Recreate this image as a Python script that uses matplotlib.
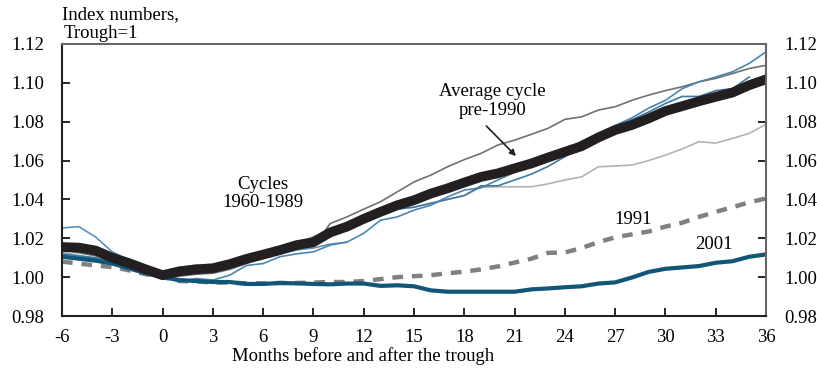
import numpy as np
import matplotlib.pyplot as plt

plt.rcParams['font.family'] = ['Liberation Serif', 'DejaVu Serif']
plt.rcParams['axes.unicode_minus'] = False

months = np.arange(-6, 37)
nan = np.nan

avg_pre1990 = [1.0155, 1.0152, 1.0137, 1.0100, 1.0072, 1.0040, 1.0010, 1.0030, 1.0040, 1.0046,
               1.0067, 1.0094, 1.0116, 1.0139, 1.0165, 1.0180, 1.0230, 1.0260, 1.0300, 1.0336,
               1.0370, 1.0396, 1.0430, 1.0457, 1.0487, 1.0516, 1.0534, 1.0560, 1.0585, 1.0616,
               1.0645, 1.0674, 1.0719, 1.0757, 1.0783, 1.0817, 1.0855, 1.0880, 1.0905, 1.0928,
               1.0950, 1.0988, 1.1018]
cyc_2001 = [1.0105, 1.0095, 1.0085, 1.0070, 1.0045, 1.0020, 1.0000, 0.9985, 0.9980, 0.9975,
            0.9975, 0.9965, 0.9965, 0.9970, 0.9968, 0.9965, 0.9963, 0.9967, 0.9967, 0.9955,
            0.9958, 0.9953, 0.9932, 0.9925, 0.9925, 0.9925, 0.9925, 0.9925, 0.9937, 0.9942,
            0.9948, 0.9953, 0.9967, 0.9973, 0.9998, 1.0027, 1.0043, 1.0050, 1.0057, 1.0074,
            1.0082, 1.0105, 1.0117]
cyc_1991 = [1.0080, 1.0070, 1.0060, 1.0052, 1.0035, 1.0015, 1.0000, 0.9980, 0.9978, 0.9972,
            0.9972, 0.9968, 0.9968, 0.9970, 0.9970, 0.9972, 0.9975, 0.9975, 0.9980, 0.9990,
            1.0000, 1.0005, 1.0010, 1.0020, 1.0028, 1.0040, 1.0055, 1.0075, 1.0095, 1.0125,
            1.0127, 1.0150, 1.0180, 1.0205, 1.0220, 1.0235, 1.0260, 1.0280, 1.0310, 1.0336,
            1.0360, 1.0385, 1.0405]

# individual cycles 1960-1989
cyc_dark = [1.0140, 1.0125, 1.0110, 1.0090, 1.0060, 1.0030, 1.0000, 1.0005, 1.0015, 1.0020,
            1.0040, 1.0070, 1.0100, 1.0130, 1.0150, 1.0156, 1.0276, 1.0310, 1.0350, 1.0388,
            1.0439, 1.0490, 1.0525, 1.0568, 1.0605, 1.0637, 1.0680, 1.0705, 1.0735, 1.0766,
            1.0812, 1.0825, 1.0860, 1.0877, 1.0910, 1.0937, 1.0960, 1.0980, 1.1005, 1.1023,
            1.1048, 1.1074, 1.1090]
cyc_light = [1.0130, 1.0110, 1.0095, 1.0080, 1.0050, 1.0025, 1.0000, 1.0010, 1.0020, 1.0030,
             1.0050, 1.0080, 1.0110, 1.0140, 1.0170, 1.0210, 1.0230, 1.0250, 1.0290, 1.0330,
             1.0350, 1.0360, 1.0380, 1.0400, 1.0420, 1.0462, 1.0465, 1.0465, 1.0465, 1.0480,
             1.0500, 1.0516, 1.0568, 1.0572, 1.0577, 1.0600, 1.0628, 1.0660, 1.0697, 1.0690,
             1.0714, 1.0740, 1.0786]
cyc_blue_a = [1.0253, 1.0260, 1.0207, 1.0130, 1.0088, 1.0036, 1.0000, 1.0050, 1.0062, 1.0055,
              1.0062, 1.0085, 1.0110, 1.0120, 1.0140, 1.0150, 1.0170, 1.0180] + [nan] * 25
cyc_blue_b = [1.0110, 1.0105, 1.0095, 1.0085, 1.0060, 1.0030, 1.0000, 0.9976, 0.9993, 0.9985,
              1.0010, 1.0060, 1.0070, 1.0105, 1.0120, 1.0130, 1.0165, 1.0180, 1.0226, 1.0293,
              1.0310, 1.0345, 1.0370, 1.0413, 1.0448, 1.0460, 1.0500, 1.0540, 1.0570, 1.0610,
              1.0650, 1.0700, 1.0740, 1.0780, 1.0820, 1.0870, 1.0910, 1.0970, 1.1005, 1.1030,
              1.1057, 1.1100, 1.1160]
cyc_blue_c = [1.0120, 1.0110, 1.0100, 1.0085, 1.0060, 1.0030, 1.0000, 1.0040, 1.0050, 1.0060,
              1.0080, 1.0100, 1.0120, 1.0140, 1.0160, 1.0170, 1.0210, 1.0250, 1.0300, 1.0330,
              1.0350, 1.0360, 1.0380, 1.0400, 1.0420, 1.0470, 1.0470, 1.0500, 1.0530, 1.0570,
              1.0620, 1.0680, 1.0730, 1.0780, 1.0810, 1.0850, 1.0894, 1.0930, 1.0930, 1.0960,
              1.0970, 1.1030, nan]

fig = plt.figure(figsize=(8.17, 3.73), dpi=100)
ax = fig.add_axes([0.0759, 0.1528, 0.8617, 0.7293])

ax.plot(months, cyc_light, color='#b3b3b3', lw=1.2)
ax.plot(months, cyc_dark, color='#707070', lw=1.2)
ax.plot(months, cyc_blue_a, color='#5b93bb', lw=1.2)
ax.plot(months, cyc_blue_b, color='#4a87b0', lw=1.2)
ax.plot(months, cyc_blue_c, color='#3d7aa3', lw=1.2)
ax.plot(months, cyc_1991, color='#808080', lw=3.2, linestyle=(0, (2.4, 2.0)))
ax.plot(months, cyc_2001, color='#0f5677', lw=3.0)
ax.plot(months, avg_pre1990, color='#231f20', lw=7)

ax.set_xlim(-6, 36)
ax.set_ylim(0.98, 1.12)
ax.set_xticks(np.arange(-6, 37, 3))
ax.set_yticks(np.arange(0.98, 1.121, 0.02))
ax.yaxis.set_major_formatter(plt.FormatStrFormatter('%.2f'))
ax.tick_params(axis='both', direction='in', length=6, width=1.2, labelsize=13.5, colors='black')
ax.tick_params(axis='x', pad=9)
ax.tick_params(axis='y', right=True, labelright=True, pad=13)
for side in ['left', 'bottom']:
    ax.spines[side].set_color('#231f20')
    ax.spines[side].set_linewidth(1.5)
for side in ['top', 'right']:
    ax.spines[side].set_color('#666666')
    ax.spines[side].set_linewidth(1.5)

ax.set_xlabel('Months before and after the trough', fontsize=13.5, labelpad=4)
ax.xaxis.set_label_coords(0.428, -0.115)

fig.text(0.076, 0.962, 'Index numbers,', fontsize=13.5, ha='left', va='center')
fig.text(0.078, 0.91, 'Trough=1', fontsize=13.5, ha='left', va='center')

ax.text(6, 1.0432, 'Cycles\n1960-1989', fontsize=13.5, ha='center', va='center', linespacing=1.1)
ax.text(19.7, 1.0906, 'Average cycle\npre-1990', fontsize=13.5, ha='center', va='center', linespacing=1.1)
ax.annotate('', xy=(21.2, 1.0613), xytext=(19.2, 1.0788),
            arrowprops=dict(arrowstyle='-|>', color='#231f20', lw=1.2, mutation_scale=9))
ax.text(28.1, 1.0299, '1991', fontsize=13.5, ha='center', va='center')
ax.text(32.9, 1.0170, '2001', fontsize=13.5, ha='center', va='center')

fig.savefig('out.png', dpi=100)
